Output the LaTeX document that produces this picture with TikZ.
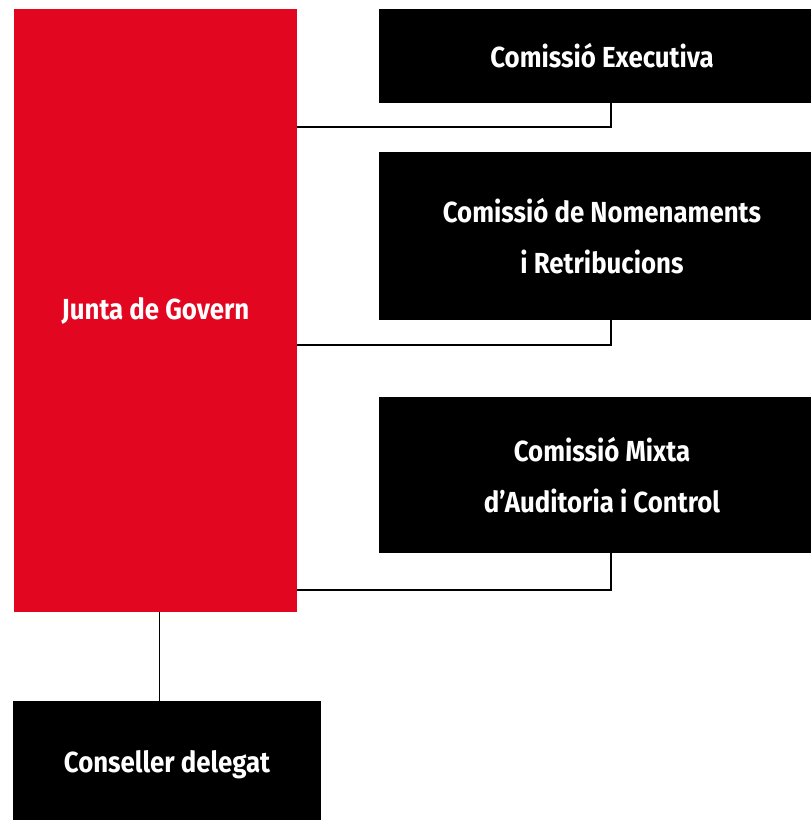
\documentclass[tikz,border=0pt]{standalone}
\usepackage{fontspec}
\newfontfamily\orgfont{Fira Sans}[FakeStretch=0.89]
\usetikzlibrary{positioning}

\begin{document}
\begin{tikzpicture}[x=1pt,y=-1pt]
\definecolor{my_red}{RGB}{227,6,33}
\definecolor{my_black}{RGB}{0,0,0}

\tikzset{
    orgbox/.style={rectangle, inner sep=0pt, text=white, align=center,
        font=\orgfont\bfseries\fontsize{29}{51}\selectfont},
    link/.style={draw=black, line width=1.8pt}
}

\useasboundingbox (0,0) rectangle (811,820);
\clip (0,0) rectangle (811,820);

\node[orgbox, fill=my_red, minimum width=283pt, minimum height=603pt] (junta) at (155.5,310.5) {Junta de Govern};

\node[orgbox, fill=my_black, minimum width=446pt, minimum height=94pt] (executiva) at (602,56) {Comissió Executiva};
\node[orgbox, fill=my_black, minimum width=446pt, minimum height=168pt] (nomenaments) at (602,236) {Comissió de Nomenaments\\i Retribucions};
\node[orgbox, fill=my_black, minimum width=446pt, minimum height=156pt] (mixta) at (602,475) {Comissió Mixta\\d’Auditoria i Control};

\node[orgbox, fill=my_black, minimum width=308pt, minimum height=128pt] (conseller) at (167,765) {Conseller delegat};

\foreach \n/\y in {executiva/127,nomenaments/345,mixta/590} {
    \draw[link] (junta.east |- 0,\y) -| (\n.south -| 611,0);
}
\draw[link] (junta.south -| 159.5,0) -- (conseller.north -| 159.5,0);
\end{tikzpicture}
\end{document}
